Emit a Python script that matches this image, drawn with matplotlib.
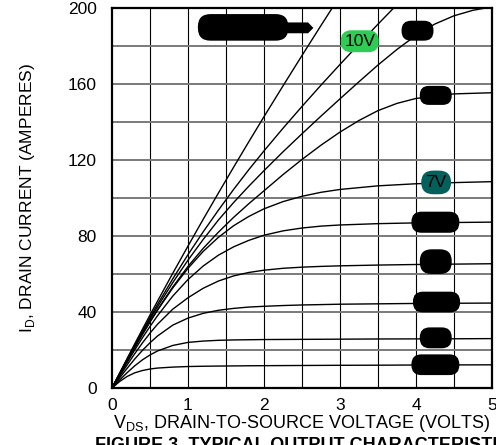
import matplotlib.pyplot as plt
from matplotlib.patches import FancyBboxPatch

plt.switch_backend('agg')
plt.rcParams['font.family'] = ['Liberation Sans', 'DejaVu Sans']

# drain-source voltage points where the curves were read (volts)
v_std = [0, 0.1, 0.2, 0.3, 0.4, 0.5, 0.6, 0.8, 1.0, 1.2, 1.4, 1.6, 1.8, 2.0,
         2.25, 2.5, 2.75, 3.0, 3.5, 4.0, 4.5, 5.0]

# drain current (amperes) per gate-voltage curve, bottom to top
i_c1 = [0, 3.4, 6.1, 8.0, 9.2, 10.0, 10.5, 11.0, 11.3, 11.45, 11.55, 11.62, 11.7, 11.75,
        11.8, 11.85, 11.9, 11.95, 12.0, 12.1, 12.15, 12.2]
i_c2 = [0, 4.2, 8.1, 11.7, 14.8, 17.4, 19.5, 22.4, 24.0, 24.7, 25.1, 25.3, 25.4, 25.5,
        25.55, 25.6, 25.65, 25.7, 25.8, 25.85, 25.9, 26.0]
i_c3 = [0, 5.3, 10.4, 15.3, 19.8, 23.8, 27.4, 33.1, 36.8, 39.3, 40.9, 41.9, 42.6, 43.0,
        43.4, 43.7, 43.9, 44.1, 44.3, 44.5, 44.6, 44.7]
i_c4 = [0, 6.2, 12.2, 18.1, 23.7, 28.9, 33.6, 41.5, 47.5, 52.5, 56.3, 59.0, 60.8, 62.0,
        63.0, 63.6, 64.0, 64.3, 64.7, 65.0, 65.2, 65.4]
i_c5 = [0, 6.8, 13.5, 20.1, 26.4, 32.4, 38.1, 48.4, 57.1, 64.2, 69.9, 74.3, 77.7, 80.4,
        82.7, 84.2, 85.2, 85.8, 86.5, 86.9, 87.1, 87.3]
i_7v = [0, 7.2, 14.3, 21.3, 28.1, 34.7, 41.0, 52.7, 63.0, 71.9, 79.3, 85.4, 90.3, 94.3,
        98.1, 100.9, 103.0, 104.5, 106.4, 107.5, 108.1, 108.6]

v_d = [0, 0.1, 0.2, 0.3, 0.4, 0.5, 0.6, 0.8, 1.0, 1.2, 1.4, 1.6, 1.8, 2.0,
       2.25, 2.5, 2.75, 3.0, 3.25, 3.5, 3.75, 4.0, 4.5, 5.0]
i_d = [0, 7.4, 14.6, 21.6, 28.4, 35.0, 41.3, 53.2, 64.0, 73.5, 82.0, 89.8, 97.0, 103.8,
       112.3, 120.3, 127.8, 134.7, 140.8, 146.0, 149.8, 152.4, 154.8, 155.4]

v_c = [0, 0.1, 0.2, 0.3, 0.4, 0.5, 0.6, 0.8, 1.0, 1.2, 1.4, 1.6, 1.8, 2.0,
       2.25, 2.5, 2.75, 3.0, 3.25, 3.5, 3.75, 4.0, 4.25, 4.5, 4.75, 5.0]
i_c = [0, 7.5, 14.9, 22.2, 29.3, 36.2, 42.8, 55.5, 67.3, 78.2, 88.4, 97.6, 106.2, 114.4,
       124.3, 133.8, 143.1, 152.2, 161.2, 170.0, 178.2, 185.6, 191.6, 195.9, 198.8, 200.6]

v_10v = [0, 0.1, 0.2, 0.3, 0.4, 0.5, 0.6, 0.8, 1.0, 1.2, 1.4, 1.6, 1.8, 2.0,
         2.25, 2.5, 2.75, 3.0, 3.25, 3.5, 3.75]
i_10v = [0, 7.6, 15.2, 22.6, 29.9, 37.1, 44.1, 57.5, 70.2, 82.2, 93.6, 104.5, 114.9, 124.8,
         136.7, 148.2, 159.4, 170.3, 181.0, 191.5, 201.8]

v_a = [0, 0.1, 0.2, 0.3, 0.4, 0.5, 0.6, 0.8, 1.0, 1.2, 1.4, 1.6, 1.8, 2.0,
       2.25, 2.5, 2.75, 3.0]
i_a = [0, 7.8, 15.6, 23.3, 30.9, 38.4, 45.8, 60.4, 74.7, 88.8, 102.6, 116.2, 129.6, 142.8,
       159.0, 175.0, 190.8, 206.4]

# redacted curve labels: (x0, y0, x1, y1) in volts / amperes
blobs = [
    (1.13, 182.8, 2.32, 196.8),
    (3.81, 182.8, 4.23, 193.3),
    (4.05, 149.0, 4.47, 159.0),
    (3.94, 81.7, 4.57, 92.8),
    (4.05, 60.0, 4.47, 73.0),
    (3.96, 39.8, 4.58, 50.7),
    (4.05, 20.9, 4.47, 31.9),
    (3.94, 6.8, 4.57, 17.7),
]

fig = plt.figure(figsize=(4.96, 4.45), dpi=100)
ax = fig.add_axes([112 / 496, 1 - 388 / 445, 380 / 496, 380 / 445])

# grid: black verticals every 0.5 V, grey horizontals every 20 A
for x in [0.5 * k for k in range(1, 10)]:
    ax.axvline(x, color='black', lw=0.8, zorder=1)
for y in range(20, 200, 20):
    ax.axhline(y, color='#7a7a7a', lw=1.4, zorder=1)

curves = [(v_std, i_c1), (v_std, i_c2), (v_std, i_c3), (v_std, i_c4),
          (v_std, i_c5), (v_std, i_7v), (v_d, i_d), (v_c, i_c),
          (v_10v, i_10v), (v_a, i_a)]
for vv, ii in curves:
    ax.plot(vv, ii, color='black', lw=1.0, zorder=3, solid_joinstyle='round')

aspect = 40.0  # amperes per volt on screen
for x0, y0, x1, y1 in blobs:
    h = y1 - y0
    p = FancyBboxPatch((x0, y0), x1 - x0, h,
                       boxstyle='round,pad=0,rounding_size=%f' % (h / aspect / 2 * 0.95),
                       mutation_aspect=aspect, fc='black', ec='none', zorder=5)
    ax.add_patch(p)
# small pointed tab on the top-left label
ax.fill([2.30, 2.58, 2.65, 2.58, 2.30], [186.7, 186.7, 189.5, 192.4, 192.4],
        color='black', zorder=5, lw=0)

ax.text(3.26, 182.5, '10V', ha='center', va='center', fontsize=12.5, zorder=6,
        bbox=dict(boxstyle='round,pad=0.2,rounding_size=0.6', fc='#2ecc55', ec='none'))
ax.text(4.265, 108.2, '7V', ha='center', va='center', fontsize=12.5, zorder=6,
        bbox=dict(boxstyle='round,pad=0.25,rounding_size=0.7', fc='#03605a', ec='none'))

ax.set_xlim(0, 5)
ax.set_ylim(0, 200)
ax.set_xticks([0, 1, 2, 3, 4, 5])
ax.set_yticks([0, 40, 80, 120, 160, 200])
ax.tick_params(length=0, labelsize=12.5)
ax.tick_params(axis='x', pad=7)
ax.tick_params(axis='y', pad=11)
for s in ax.spines.values():
    s.set_linewidth(1.6)
    s.set_zorder(7)

ax.set_xlabel('V$_\\mathregular{DS}$, DRAIN-TO-SOURCE VOLTAGE (VOLTS)', fontsize=13, labelpad=0)
ax.set_ylabel('I$_\\mathregular{D}$, DRAIN CURRENT (AMPERES)', fontsize=12.5, labelpad=22)

# caption sits at the bottom edge and runs off the page, as in the source
fig.text(95 / 496, 1 - 437 / 445, 'FIGURE 3. TYPICAL OUTPUT CHARACTERISTICS',
         fontsize=13, fontweight='bold', ha='left', va='top')

fig.savefig('out.png', dpi=100)
